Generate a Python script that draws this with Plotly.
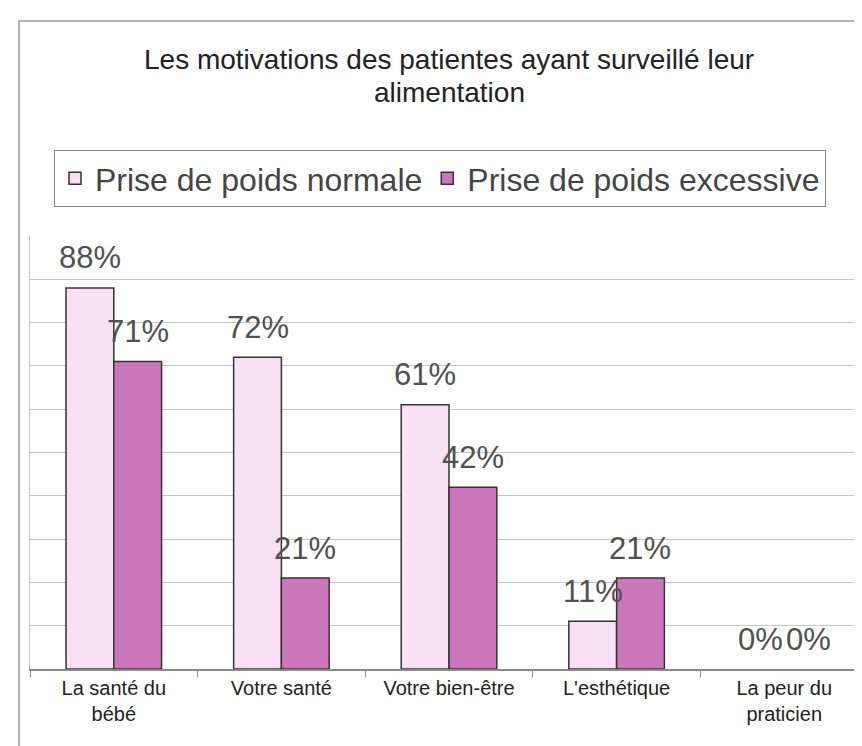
import plotly.graph_objects as go

categories = ["La santé du<br>bébé", "Votre santé", "Votre bien-être", "L'esthétique", "La peur du<br>praticien"]
normale = [88, 72, 61, 11, 0]
excessive = [71, 21, 42, 21, 0]
series_names = ["Prise de poids normale", "Prise de poids excessive"]
title_lines = ["Les motivations des patientes ayant surveillé leur", "alimentation"]

W, H = 862, 746
ML, MR, MT, MB = 22, 2, 228, 85
FONT = "Arial, Liberation Sans, sans-serif"
BARGAP = 0.43

fig = go.Figure()
fig.add_trace(go.Bar(x=categories, y=normale, name=series_names[0],
                     marker=dict(color="#F9E0F5",
                                 line=dict(color="#333333", width=[1.5 if v else 0 for v in normale]))))
fig.add_trace(go.Bar(x=categories, y=excessive, name=series_names[1],
                     marker=dict(color="#CC76BC",
                                 line=dict(color="#333333", width=[1.5 if v else 0 for v in excessive]))))

plot_w = W - ML - MR
plot_h = H - MT - MB
cat_w = plot_w / len(categories)
half = cat_w * (1 - BARGAP) / 4
for vals, sh in ((normale, -half), (excessive, half)):
    for c, v in zip(categories, vals):
        fig.add_annotation(x=c, y=v, xref="x", yref="y", text=f"{v}%", showarrow=False,
                           xshift=sh, yshift=30, yanchor="middle",
                           font=dict(family=FONT, size=31, color="#505050"))

def px_to_paper_x(px):
    return (px - ML) / plot_w
def px_to_paper_y(py):
    return (H - MB - py) / plot_h

for line, ypx in zip(title_lines, (52, 84)):
    fig.add_annotation(text=line, xref="paper", yref="paper", x=0.5, y=px_to_paper_y(ypx),
                       xanchor="center", yanchor="middle", showarrow=False,
                       font=dict(family=FONT, size=28, color="#222222"))

fig.add_shape(type="rect", xref="paper", yref="paper",
              x0=px_to_paper_x(11), x1=px_to_paper_x(875),
              y0=px_to_paper_y(760), y1=px_to_paper_y(13),
              line=dict(color="#9A9A9A", width=1.5), fillcolor="rgba(0,0,0,0)", layer="below")

fig.update_layout(
    width=W, height=H,
    margin=dict(l=ML, r=MR, t=MT, b=MB),
    paper_bgcolor="white", plot_bgcolor="white",
    barmode="group", bargap=BARGAP, bargroupgap=0,
    font=dict(family=FONT, color="#222222"),
    legend=dict(orientation="h", x=px_to_paper_x(432), xanchor="center",
                y=px_to_paper_y(142), yanchor="top",
                font=dict(family=FONT, size=32, color="#444444"),
                bordercolor="#8A8A8A", borderwidth=1, bgcolor="white",
                itemwidth=30, tracegroupgap=0),
    showlegend=True,
)
fig.update_xaxes(showline=True, linecolor="#8A8A8A", linewidth=1.5,
                 ticks="outside", tickson="boundaries", ticklen=6, tickcolor="#8A8A8A",
                 tickfont=dict(family=FONT, size=20, color="#222222"), showgrid=False)
fig.update_yaxes(range=[0, 100], dtick=10, showticklabels=False, showgrid=True,
                 gridcolor="#C4C4C4", gridwidth=1, showline=True, linecolor="#C4C4C4",
                 mirror=True, zeroline=False, ticks="")

fig.write_html("out.html")
